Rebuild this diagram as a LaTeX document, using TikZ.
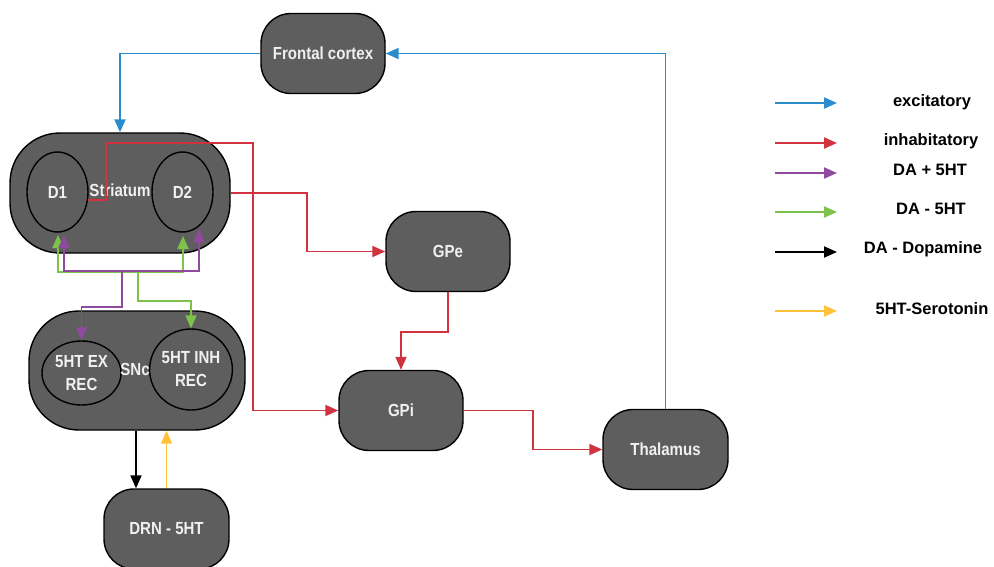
\documentclass[tikz,border=0pt]{standalone}
\usepackage{fontspec}
\setmainfont{Liberation Sans}
\newfontfamily\nodefont[FakeStretch=0.86]{Liberation Sans}
\usetikzlibrary{arrows.meta,calc,shapes.geometric}
\definecolor{boxfill}{HTML}{5E5E5E}
\definecolor{cblue}{HTML}{2A8CCB}
\definecolor{cred}{HTML}{D0323F}
\definecolor{cpurple}{HTML}{8E4A9C}
\definecolor{cgreen}{HTML}{7DC24B}
\definecolor{cyellow}{HTML}{FFC23A}
\tikzset{
  box/.style={draw=black, line width=1.4pt, fill=boxfill, rounded corners=30pt,
    minimum width=124pt, minimum height=80pt, text=white!94!black, inner sep=0pt,
    font=\nodefont\bfseries\fontsize{17.5}{23}\selectfont, align=center},
  bigbox/.style={box, rounded corners=50pt},
  oval/.style={draw=black, line width=1.4pt, fill=boxfill, ellipse, inner sep=0pt,
    text=white!94!black, font=\nodefont\bfseries\fontsize{17.5}{23}\selectfont, align=center},
  lbl/.style={text=white!94!black, inner sep=0pt, font=\nodefont\bfseries\fontsize{17.5}{23}\selectfont},
  legtext/.style={inner sep=0pt, font=\bfseries\fontsize{16.5}{20}\selectfont},
  conn/.style={line width=1.9pt, -{Triangle[length=13pt,width=11pt]}},
  conn2/.style={line width=1.9pt, {Triangle[length=13pt,width=11pt]}-{Triangle[length=13pt,width=11pt]}},
}
\begin{document}
\begin{tikzpicture}[x=1pt,y=-1pt]
\useasboundingbox (0,0) rectangle (994,567);
% nodes
\node[box] (fc) at (323,53.5) {Frontal cortex};
\node[bigbox, minimum width=220pt, minimum height=120pt] (str) at (120,193) {};
\node[oval, minimum width=61pt, minimum height=80pt] (d1) at (57.5,192) {D1};
\node[oval, minimum width=61pt, minimum height=80pt] (d2) at (182.5,192) {D2};
\node[lbl] (strl) at (120,190) {Striatum};
\node[bigbox, minimum width=216pt, minimum height=119pt] (snc) at (137,370.5) {};
\node[oval, minimum width=79pt, minimum height=64pt] (ex) at (81.5,373) {5HT EX\\REC};
\node[oval, minimum width=78pt, minimum height=81pt] (inh) at (191,369.5) {5HT INH\\REC};
\node[lbl] (sncl) at (135,369) {SNc};
\node[box, minimum width=125pt] (drn) at (166.5,529) {DRN - 5HT};
\node[box] (gpe) at (448,251.5) {GPe};
\node[box] (gpi) at (401,410.5) {GPi};
\node[box, minimum width=125pt] (thal) at (665.5,449.5) {Thalamus};
% blue
\draw[conn, cblue] (fc.west) -| (str.north);
\draw[conn, cblue] (thal.north) |- (fc.east);
% red
\coordinate (r1) at (106,143);
\coordinate (r2) at (253,143);
\draw[conn, cred] (d1.-15) -| (r1) -- (r2) |- (gpi.west);
\draw[conn, cred] (str.east) -| ($(gpe.west)+(-78,0)$) -- (gpe.west);
\draw[conn, cred] (gpe.south) -- ++(0,40) -| (gpi.north);
\coordinate (r5) at (533,410.5);
\draw[conn, cred] (gpi.east) -- (r5) |- (thal.west);
% green / purple
\coordinate (gh) at (0,271.7);
\coordinate (ph) at (0,270.7);
\coordinate (g1) at (58,235);
\coordinate (g2) at (183,236);
\coordinate (p1) at (64,235);
\coordinate (p2) at (199,229);
\draw[conn2, cgreen] (g1) -- (g1 |- gh) -- (g2 |- gh) -- (g2);
\draw[conn, cgreen] (138,271.7) -- (138,301) -| (inh.north);
\draw[conn2, cpurple] (p1) -- (p1 |- ph) -- (p2 |- ph) -- (p2);
\draw[conn, cpurple] (122,270.7) -- (122,307) -| (ex.north);
% black / yellow
\draw[conn, black] (snc.south -| 136,0) -- (drn.north -| 136,0);
\draw[conn, cyellow] (drn.north) -- (drn.north |- snc.south);
% legend
\coordinate (la1) at (775,103); \coordinate (lb1) at (837,103);
\coordinate (la2) at (775,143); \coordinate (lb2) at (837,143);
\coordinate (la3) at (775,173); \coordinate (lb3) at (837,173);
\coordinate (la4) at (775,212); \coordinate (lb4) at (837,212);
\coordinate (la5) at (775,252); \coordinate (lb5) at (837,252);
\coordinate (la6) at (775,311); \coordinate (lb6) at (837,311);
\draw[conn, cblue] (la1) -- (lb1);
\draw[conn, cred] (la2) -- (lb2);
\draw[conn, cpurple] (la3) -- (lb3);
\draw[conn, cgreen] (la4) -- (lb4);
\draw[conn, black] (la5) -- (lb5);
\draw[conn, cyellow] (la6) -- (lb6);
\node[legtext] (t1) at (932,102) {excitatory};
\node[legtext] (t2) at (931,141) {inhabitatory};
\node[legtext] (t3) at (930,170) {DA + 5HT};
\node[legtext] (t4) at (931,209) {DA - 5HT};
\node[legtext] (t5) at (923,249) {DA - Dopamine};
\node[legtext] (t6) at (932,309) {5HT-Serotonin};
\end{tikzpicture}
\end{document}
